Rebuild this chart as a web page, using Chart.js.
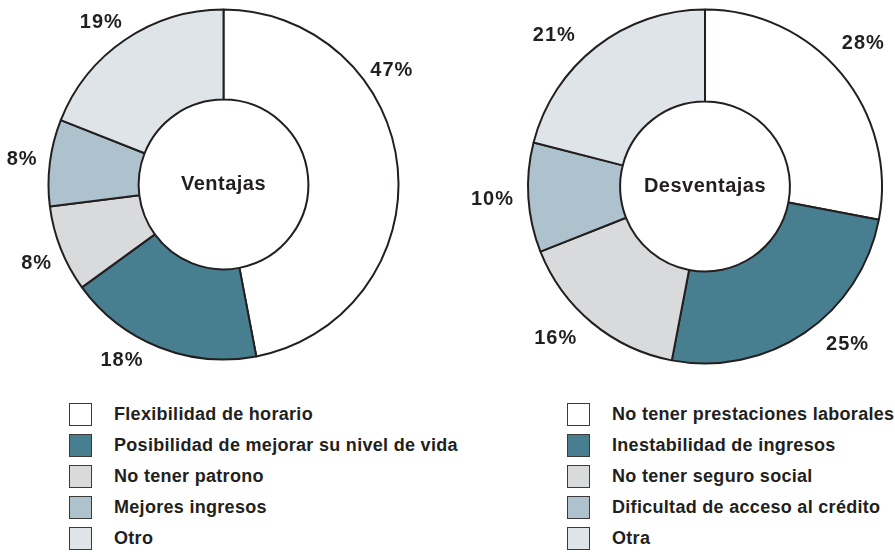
<!DOCTYPE html>
<html>
<head>
<meta charset="utf-8">
<script src="https://cdn.jsdelivr.net/npm/chart.js@4.4.1/dist/chart.umd.min.js"></script>
<style>
  body { margin: 0; background: #fff; width: 895px; height: 552px; position: relative; overflow: hidden;
         font-family: "Liberation Sans", Arial, sans-serif; color: #231f20; }
  .wrap { position: absolute; top: 0; width: 447px; height: 395px; }
  .legend { position: absolute; top: 403px; margin: 0; padding: 0; list-style: none; }
  .legend li { height: 31px; position: relative; font-weight: bold; font-size: 18px; letter-spacing: 0.3px; white-space: nowrap; }
  .legend li span { position: absolute; left: 0; top: 0; width: 21px; height: 21px; border: 1.5px solid #3a3a3a; }
  .legend li b { position: absolute; left: 45px; top: 0px; line-height: 22px; }
</style>
</head>
<body>
<div class="wrap" style="left:0"><canvas id="chart1"></canvas></div>
<div class="wrap" style="left:448px"><canvas id="chart2"></canvas></div>
<ul class="legend" id="legend1" style="left:69px"></ul>
<ul class="legend" id="legend2" style="left:567px"></ul>
<script>
// data
var ventajasLabels = ["Flexibilidad de horario", "Posibilidad de mejorar su nivel de vida", "No tener patrono", "Mejores ingresos", "Otro"];
var ventajasValues = [47, 18, 8, 8, 19];
var desventajasLabels = ["No tener prestaciones laborales", "Inestabilidad de ingresos", "No tener seguro social", "Dificultad de acceso al crédito", "Otra"];
var desventajasValues = [28, 25, 16, 10, 21];
var sliceColors = ['#ffffff', '#477f90', '#d9dadc', '#adc2cc', '#dfe4e8'];

// percent labels outside the ring + title in the hole
var donutText = {
  id: 'donutText',
  afterDatasetsDraw: function (chart, args, opts) {
    var ctx = chart.ctx;
    var meta = chart.getDatasetMeta(0);
    var values = chart.data.datasets[0].data;
    ctx.save();
    ctx.fillStyle = '#231f20';
    ctx.textAlign = 'center';
    ctx.textBaseline = 'middle';
    ctx.letterSpacing = '1px';
    ctx.font = 'bold 20px "Liberation Sans", Arial, sans-serif';
    meta.data.forEach(function (arc, i) {
      var p = arc.getProps(['x', 'y', 'startAngle', 'endAngle', 'outerRadius'], true);
      var a = (p.startAngle + p.endAngle) / 2;
      // some labels sit a bit off the slice middle in the original
      if (opts.angles && opts.angles[i] != null) a = opts.angles[i] * Math.PI / 180;
      var r = p.outerRadius + opts.offset;
      ctx.fillText(values[i] + '%', p.x + Math.cos(a) * r, p.y + Math.sin(a) * r);
    });
    var c = meta.data[0];
    ctx.letterSpacing = '0.5px';
    ctx.fillText(opts.title, c.x, c.y);
    ctx.restore();
  }
};

function makeLegend(id, labels) {
  var ul = document.getElementById(id);
  labels.forEach(function (l, i) {
    var li = document.createElement('li');
    li.innerHTML = '<span style="background:' + sliceColors[i] + '"></span><b>' + l + '</b>';
    ul.appendChild(li);
  });
}

// **************chart1*****************
var ctx = document.getElementById('chart1').getContext('2d');
var chart = new Chart(ctx, {
  type: 'doughnut',
  data: {
    labels: ventajasLabels,
    datasets: [{
      data: ventajasValues,
      backgroundColor: sliceColors,
      borderColor: '#231f20',
      borderWidth: 2
    }]
  },
  options: {
    responsive: true,
    maintainAspectRatio: false,
    animation: false,
    radius: 175,
    cutout: 89,
    layout: { padding: { bottom: 26 } },
    plugins: {
      legend: { display: false },
      tooltip: { enabled: false },
      donutText: { title: 'Ventajas', offset: 28, angles: [-34, 120, 157, null, 233] }
    }
  },
  plugins: [donutText]
});
makeLegend('legend1', ventajasLabels);

// **************chart2*****************
var ctx2 = document.getElementById('chart2').getContext('2d');
var chart2 = new Chart(ctx2, {
  type: 'doughnut',
  data: {
    labels: desventajasLabels,
    datasets: [{
      data: desventajasValues,
      backgroundColor: sliceColors,
      borderColor: '#231f20',
      borderWidth: 2
    }]
  },
  options: {
    responsive: true,
    maintainAspectRatio: false,
    animation: false,
    radius: 177,
    cutout: 89,
    layout: { padding: { left: 67, bottom: 22 } },
    plugins: {
      legend: { display: false },
      tooltip: { enabled: false },
      donutText: { title: 'Desventajas', offset: 36, angles: [-42, 48, 134.5, null, 225] }
    }
  },
  plugins: [donutText]
});
makeLegend('legend2', desventajasLabels);
</script>
</body>
</html>
